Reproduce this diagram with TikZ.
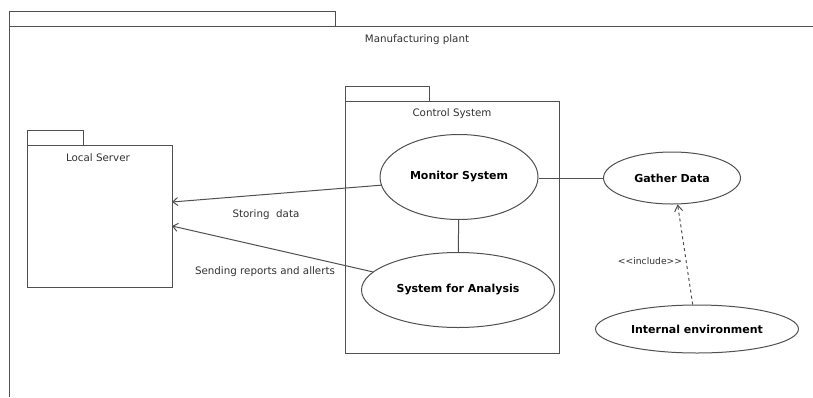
\documentclass[tikz,border=0pt]{standalone}
\usepackage{fontspec}
\setmainfont{DejaVu Sans}
\usetikzlibrary{shapes.geometric,arrows.meta}
\definecolor{linegray}{RGB}{80,80,80}
\definecolor{textgray}{RGB}{50,50,50}
\tikzset{
  frameline/.style={draw=linegray, line width=1pt},
  pkgbox/.style={draw=linegray, line width=1pt, rectangle, inner sep=0pt, anchor=north west},
  pkglabel/.style={font=\fontsize{10.3}{12}\selectfont, text=textgray, inner sep=0pt},
  usecase/.style={ellipse, draw=linegray, line width=1pt, inner sep=0pt,
    font=\fontsize{11}{13}\selectfont\bfseries},
  assoc/.style={draw=linegray, line width=1pt},
  navarrow/.style={assoc, -{Straight Barb[length=5pt,width=8pt]}},
  incl/.style={draw=linegray, line width=1pt, dashed, dash pattern=on 3pt off 3pt,
    -{Straight Barb[length=6pt,width=8pt]}},
  edgelabel/.style={font=\fontsize{10.3}{12}\selectfont, text=textgray, inner sep=0pt},
}
\begin{document}
\begin{tikzpicture}[x=1pt,y=-1pt]
\useasboundingbox[fill=white] (0,0) rectangle (813,397);

% Outer package: Manufacturing plant
\node[pkgbox, minimum width=326, minimum height=15] (planttab) at (9,11) {};
\draw[frameline] (813,26) -- (9,26) -- (9,397);
\node[pkglabel] (plantlbl) at (417,40) {Manufacturing plant};

% Local Server package
\node[pkgbox, minimum width=56, minimum height=15] (lstab) at (27,130) {};
\node[pkgbox, minimum width=145, minimum height=142] (ls) at (27,145) {};
\node[pkglabel] (lslbl) at (98,158) {Local Server};
\coordinate (lsA) at (172,202);
\coordinate (lsB) at (172,226);

% Control System package
\node[pkgbox, minimum width=84, minimum height=15] (cstab) at (345,86) {};
\node[pkgbox, minimum width=214, minimum height=252] (cs) at (345,101) {};
\node[pkglabel] (cslbl) at (452,114) {Control System};

% Use cases
\node[usecase, minimum width=158, minimum height=85] (mon) at (459,177) {Monitor System};
\node[usecase, minimum width=193, minimum height=75] (ana) at (458,290) {System for Analysis};
\node[usecase, minimum width=137, minimum height=52] (gat) at (672,178) {Gather Data};
\node[usecase, minimum width=203, minimum height=48] (int) at (697,329) {Internal environment};

% Associations
\draw[assoc] (mon) -- (ana);
\draw[assoc] (mon.east |- gat.west) -- (gat.west);
\draw[navarrow] (mon.186) -- (lsA);
\draw[navarrow] (ana.168) -- (lsB);
\node[edgelabel] (storelbl) at (266,215) {Storing\ \ data};
\node[edgelabel] (sendlbl) at (265,272) {Sending reports and allerts};

% Include relation
\draw[incl] (int.100) -- (gat.-78);
\node[edgelabel, font=\fontsize{9.2}{11}\selectfont] (incllbl) at (650,261) {{<}{<}include{>}{>}};
\end{tikzpicture}
\end{document}
